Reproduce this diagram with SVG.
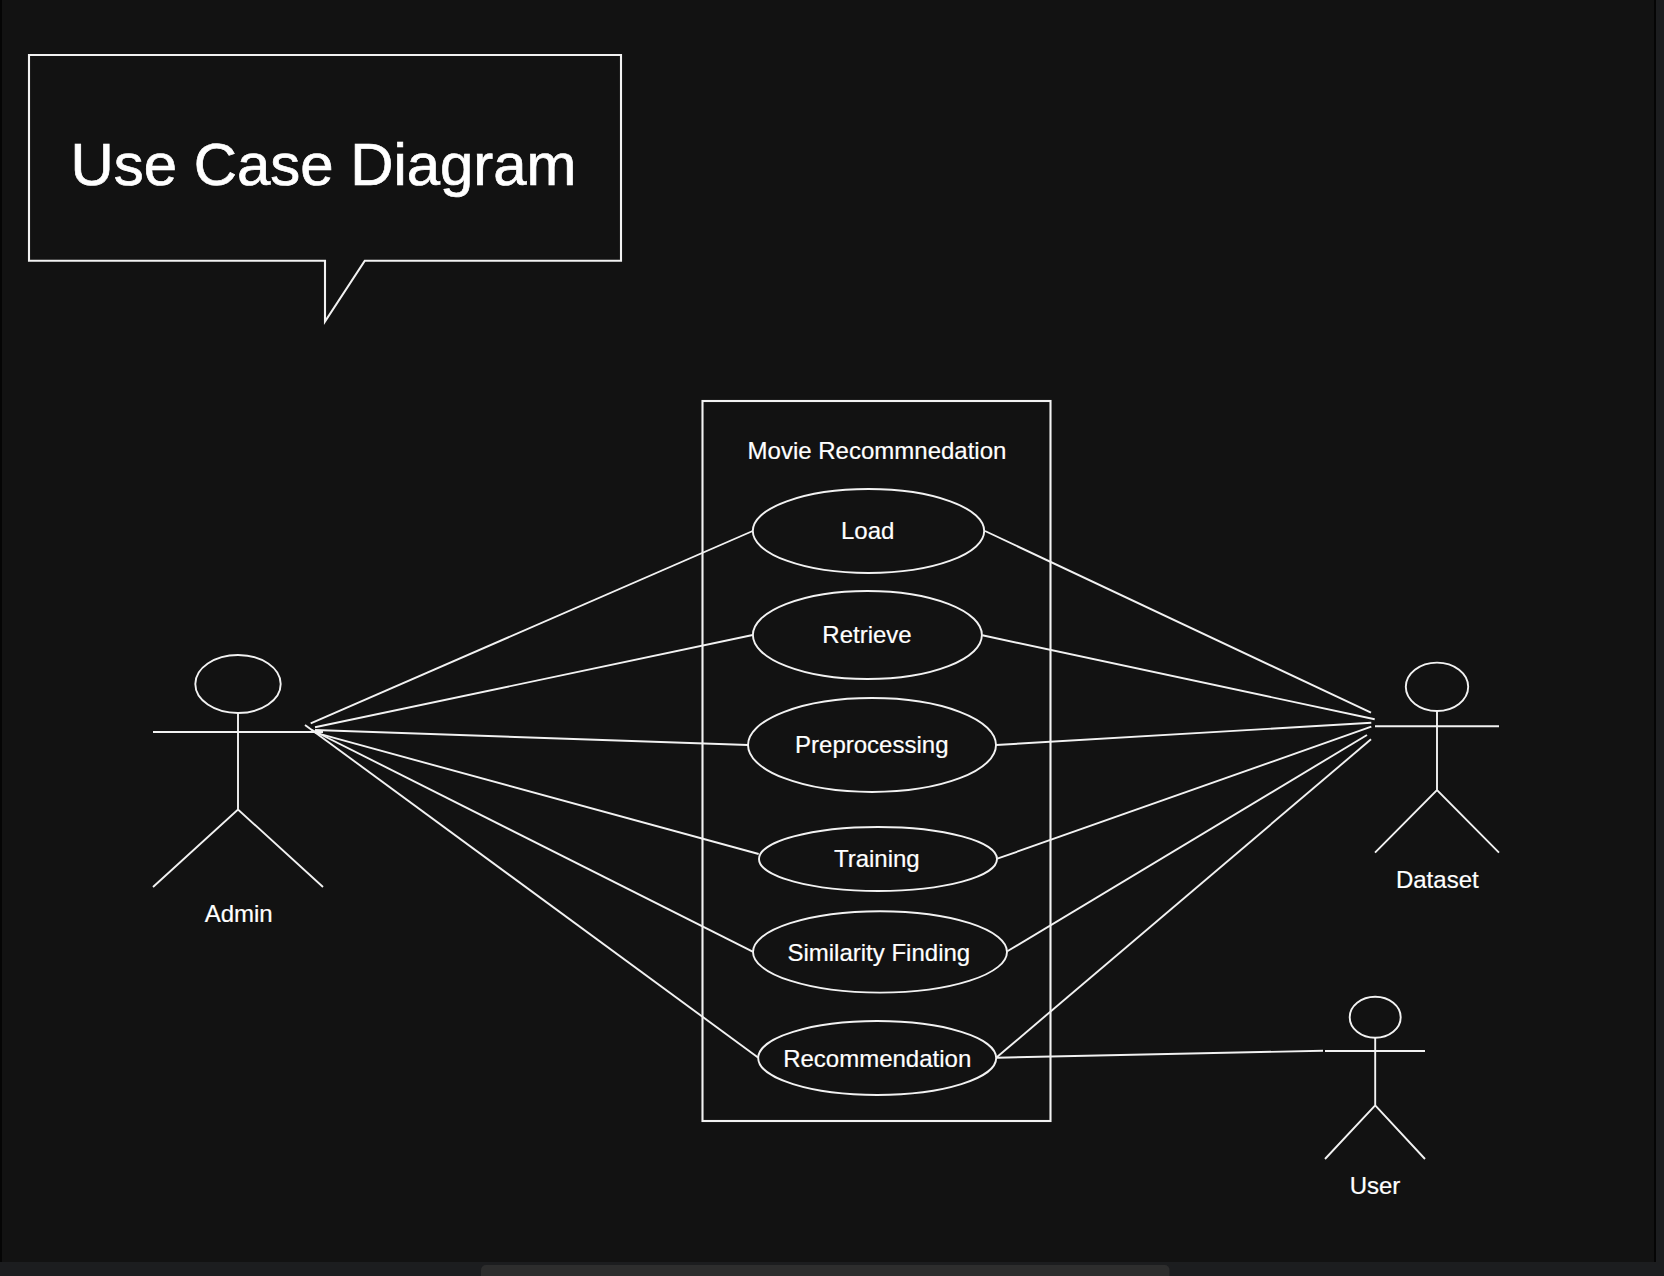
<svg xmlns="http://www.w3.org/2000/svg" width="1664" height="1276" viewBox="0 0 1664 1276">
<style>
.s{fill:none;stroke:#f2f2f2;stroke-width:1.9}
.b{fill:none;stroke:#f2f2f2;stroke-width:2.1}
text{fill:#fff;stroke:#fff;stroke-width:.2;font-family:"Liberation Sans",Arial,sans-serif;font-size:24px;text-anchor:middle}
.title{font-size:59.9px;stroke-width:.7}
</style>
<g id="window">
<rect width="1664" height="1276" fill="#121212"/>
<rect x="0" y="0" width="2" height="1262" fill="#050505"/>
<rect x="1654" y="0" width="2" height="1262" fill="#050505"/>
<rect x="1656" y="0" width="8" height="1276" fill="#1c1d1f"/>
<rect x="0" y="1262" width="1664" height="14" fill="#1c1d1f"/>
<path d="M481 1276V1270a5 5 0 0 1 5-5H1164.500a5 5 0 0 1 5 5V1276Z" fill="#2d2d2d"/>
</g>
<g id="callout">
<path class="b" d="M29 55H621V260.700H364.800L325 321.500V260.700H29Z"/>
<text class="title" x="323.500" y="185">Use Case Diagram</text>
</g>
<g id="system">
<rect class="b" x="702.500" y="401" width="348" height="720"/>
<text x="877" y="459">Movie Recommnedation</text>
</g>
<g id="connectors">
<path class="s" d="M310.700 723.300L752.700 531"/>
<path class="s" d="M315 727.300L752.700 635"/>
<path class="s" d="M315 730L748 745"/>
<path class="s" d="M315 732.700L758.700 854"/>
<path class="s" d="M312 730L752.700 951.700"/>
<path class="s" d="M305 725L758 1057.500"/>
<path class="s" d="M985 531L1371 712.700"/>
<path class="s" d="M982.300 635.300L1374.700 719.300"/>
<path class="s" d="M996 745L1371.300 722.700"/>
<path class="s" d="M997.300 858.700L1371.300 726.700"/>
<path class="s" d="M1007.300 951.300L1367 735"/>
<path class="s" d="M996.700 1057.300L1371 739.300"/>
<path class="s" d="M996.700 1057.700L1323 1050.700"/>
</g>
<g id="load"><ellipse class="s" cx="868.500" cy="531" rx="115.700" ry="42"/><text x="867.700" y="539">Load</text></g>
<g id="retrieve"><ellipse class="s" cx="867.400" cy="635" rx="114.500" ry="44"/><text x="867" y="642.700">Retrieve</text></g>
<g id="preprocessing"><ellipse class="s" cx="872" cy="745" rx="124" ry="47"/><text x="871.800" y="752.700">Preprocessing</text></g>
<g id="training"><ellipse class="s" cx="878" cy="859" rx="119" ry="32"/><text x="876.800" y="867.300">Training</text></g>
<g id="similarity"><ellipse class="s" cx="880" cy="951.900" rx="127" ry="40.700"/><text x="878.800" y="961">Similarity Finding</text></g>
<g id="recommendation"><ellipse class="s" cx="877.200" cy="1058" rx="119" ry="37"/><text x="877.200" y="1066.700">Recommendation</text></g>
<g id="admin">
<ellipse class="s" cx="238" cy="684" rx="42.700" ry="29"/>
<path class="s" d="M238 713V809.500M153 732H323M153 887L238 809.500L323 887"/>
<text x="238.700" y="921.700">Admin</text>
</g>
<g id="dataset">
<ellipse class="s" cx="1437" cy="686.800" rx="31.200" ry="24.200"/>
<path class="s" d="M1437 711V790M1375 726.300H1499M1375 852.700L1437 790L1499 852.700"/>
<text x="1437.300" y="888">Dataset</text>
</g>
<g id="user">
<ellipse class="s" cx="1375.200" cy="1017.300" rx="25.500" ry="20.500"/>
<path class="s" d="M1375.200 1037.800V1105.300M1325 1051H1425M1325 1159L1375.200 1105.300L1425 1159"/>
<text x="1375" y="1194">User</text>
</g>
</svg>
